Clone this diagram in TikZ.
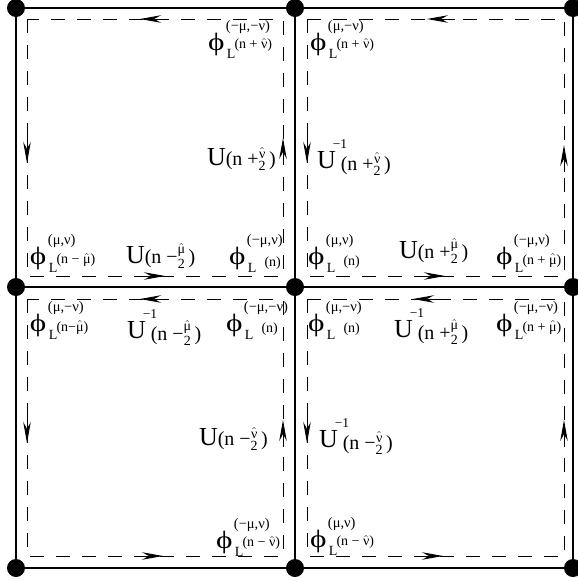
\documentclass[tikz,border=0pt]{standalone}
\usepackage{fontspec}
\setmainfont{Liberation Serif}
\usepackage{amsmath}
\usetikzlibrary{arrows.meta,calc}
\newcommand\hatg[1]{\ensuremath{\hat{\mbox{#1}}}}
\newcommand\fr[1]{\raisebox{-5.5pt}{\fontsize{14}{14}\selectfont\shortstack{#1\\2}}}
% phi label: #1 upper index, #2 argument, #3 shift of argument, #4 raise of argument
\newcommand\phil[4]{\scalebox{1.25}[1]{\fontsize{25}{25}\selectfont ϕ}\makebox[0pt][l]{\hspace{1.5pt}\raisebox{19.5pt}{\fontsize{14.5}{14.5}\selectfont #1}}\hspace{2.5pt}\raisebox{-8.5pt}{\fontsize{14}{14}\selectfont L}\hspace{#3}\raisebox{#4}{\fontsize{14}{14}\selectfont #2}}
\newcommand\Ul[1]{{\fontsize{26}{26}\selectfont U}{\fontsize{20}{20}\selectfont #1}}
\newcommand\Uil[1]{{\fontsize{26}{26}\selectfont U}\makebox[0pt][l]{\hspace{-3pt}\raisebox{19.5pt}{\fontsize{13.5}{13.5}\selectfont −1}}\hspace{5pt}\raisebox{-2pt}{\fontsize{20}{20}\selectfont #1}}
\tikzset{
  grid/.style={line width=1.6pt, black},
  dot/.style={circle, fill=black, inner sep=0pt, minimum size=18pt},
  loop/.style={line width=0.9pt, dash pattern=on 14pt off 12pt},
  arr/.style={line width=0.9pt, -{Stealth[length=21pt,width=7.5pt,inset=7pt]}},
  lab/.style={anchor=base west, inner sep=0pt, outer sep=0pt},
}
\begin{document}
\begin{tikzpicture}[x=1pt,y=-1pt]
\useasboundingbox (0,0) rectangle (578,582);
% lattice sites
\node[dot] (s11) at (16,8) {};
\node[dot] (s12) at (295,8) {};
\node[dot] (s13) at (573,8) {};
\node[dot] (s21) at (16,287) {};
\node[dot] (s22) at (295,287) {};
\node[dot] (s23) at (573,287) {};
\node[dot] (s31) at (16,568) {};
\node[dot] (s32) at (295,568) {};
\node[dot] (s33) at (573,568) {};
% links
\draw[grid] (s11.center) -- (s12.center) -- (s13.center) -- (s23.center) -- (s33.center) -- (s32.center) -- (s31.center) -- (s21.center) -- cycle;
\draw[grid] (s21.center) -- (s22.center) -- (s23.center);
\draw[grid] (s12.center) -- (s22.center) -- (s32.center);
% dashed loops
\coordinate (a1) at (27,19);  \coordinate (a2) at (283,276);
\coordinate (b1) at (307,19); \coordinate (b2) at (564,276);
\coordinate (c1) at (27,299); \coordinate (c2) at (283,556);
\coordinate (d1) at (307,299);\coordinate (d2) at (564,556);
\draw[loop] (a1) rectangle (a2);
\draw[loop] (b1) rectangle (b2);
\draw[loop] (c1) rectangle (c2);
\draw[loop] (d1) rectangle (d2);
% arrows
\draw[arr] (168,19) -- (140,19);
\draw[arr] (27,136) -- (27,163);
\draw[arr] (137,276) -- (165,276);
\draw[arr] (283,165) -- (283,138);
\draw[arr] (455,19) -- (427,19);
\draw[arr] (307,136) -- (307,163);
\draw[arr] (417,276) -- (445,276);
\draw[arr] (564,172) -- (564,145);
\draw[arr] (168,299) -- (140,299);
\draw[arr] (27,416) -- (27,443);
\draw[arr] (135,556) -- (163,556);
\draw[arr] (283,447) -- (283,420);
\draw[arr] (441,299) -- (413,299);
\draw[arr] (307,416) -- (307,443);
\draw[arr] (415,556) -- (443,556);
\draw[arr] (564,447) -- (564,420);
% phi labels
\node[lab] (p1) at (208,50) {\phil{(−μ,−ν)}{(n + \hatg{ν})}{-1pt}{1.5pt}};
\node[lab] (p3) at (30,264) {\phil{(μ,ν)}{(n − \hatg{μ})}{-1pt}{0.5pt}};
\node[lab] (p5) at (229,264) {\phil{(−μ,ν)}{(n)}{8pt}{-2pt}};
\node[lab] (p6) at (310,50) {\phil{(μ,−ν)}{(n + \hatg{ν})}{-1pt}{1.5pt}};
\node[lab] (p8) at (308,264) {\phil{(μ,ν)}{(n)}{8pt}{-1pt}};
\node[lab] (p10) at (496,264) {\phil{(−μ,ν)}{(n + \hatg{μ})}{-1pt}{0pt}};
\node[lab] (p11) at (30,331) {\phil{(μ,−ν)}{(n−\hatg{μ})}{-1pt}{0pt}};
\node[lab] (p13) at (226,331) {\phil{(−μ,−ν)}{(n)}{8pt}{-1pt}};
\node[lab] (p15) at (216,548) {\phil{(−μ,ν)}{(n − \hatg{ν})}{-1pt}{1.5pt}};
\node[lab] (p16) at (308,331) {\phil{(μ,−ν)}{(n)}{8pt}{-1pt}};
\node[lab] (p18) at (496,331) {\phil{(−μ,−ν)}{(n + \hatg{μ})}{-1pt}{0pt}};
\node[lab] (p20) at (310,547) {\phil{(μ,ν)}{(n − \hatg{ν})}{-1pt}{1.5pt}};
% link labels
\node[lab] (u2) at (207,165) {\Ul{(n +\fr{\hatg{ν}}\,)}};
\node[lab] (u4) at (126,263) {\Ul{(n −\fr{\hatg{μ}}\,)}};
\node[lab] (u7) at (317,168) {\Uil{(n +\fr{\hatg{ν}}\,)}};
\node[lab] (u9) at (399,258) {\Ul{(n +\fr{\hatg{μ}}\,)}};
\node[lab] (u12) at (127,338) {\Uil{(n −\fr{\hatg{μ}}\,)}};
\node[lab] (u14) at (199,445) {\Ul{(n −\fr{\hatg{ν}}\,)}};
\node[lab] (u17) at (394,337) {\Uil{(n +\fr{\hatg{μ}}\,)}};
\node[lab] (u19) at (319,447) {\Uil{(n −\fr{\hatg{ν}}\,)}};
\end{tikzpicture}
\end{document}
